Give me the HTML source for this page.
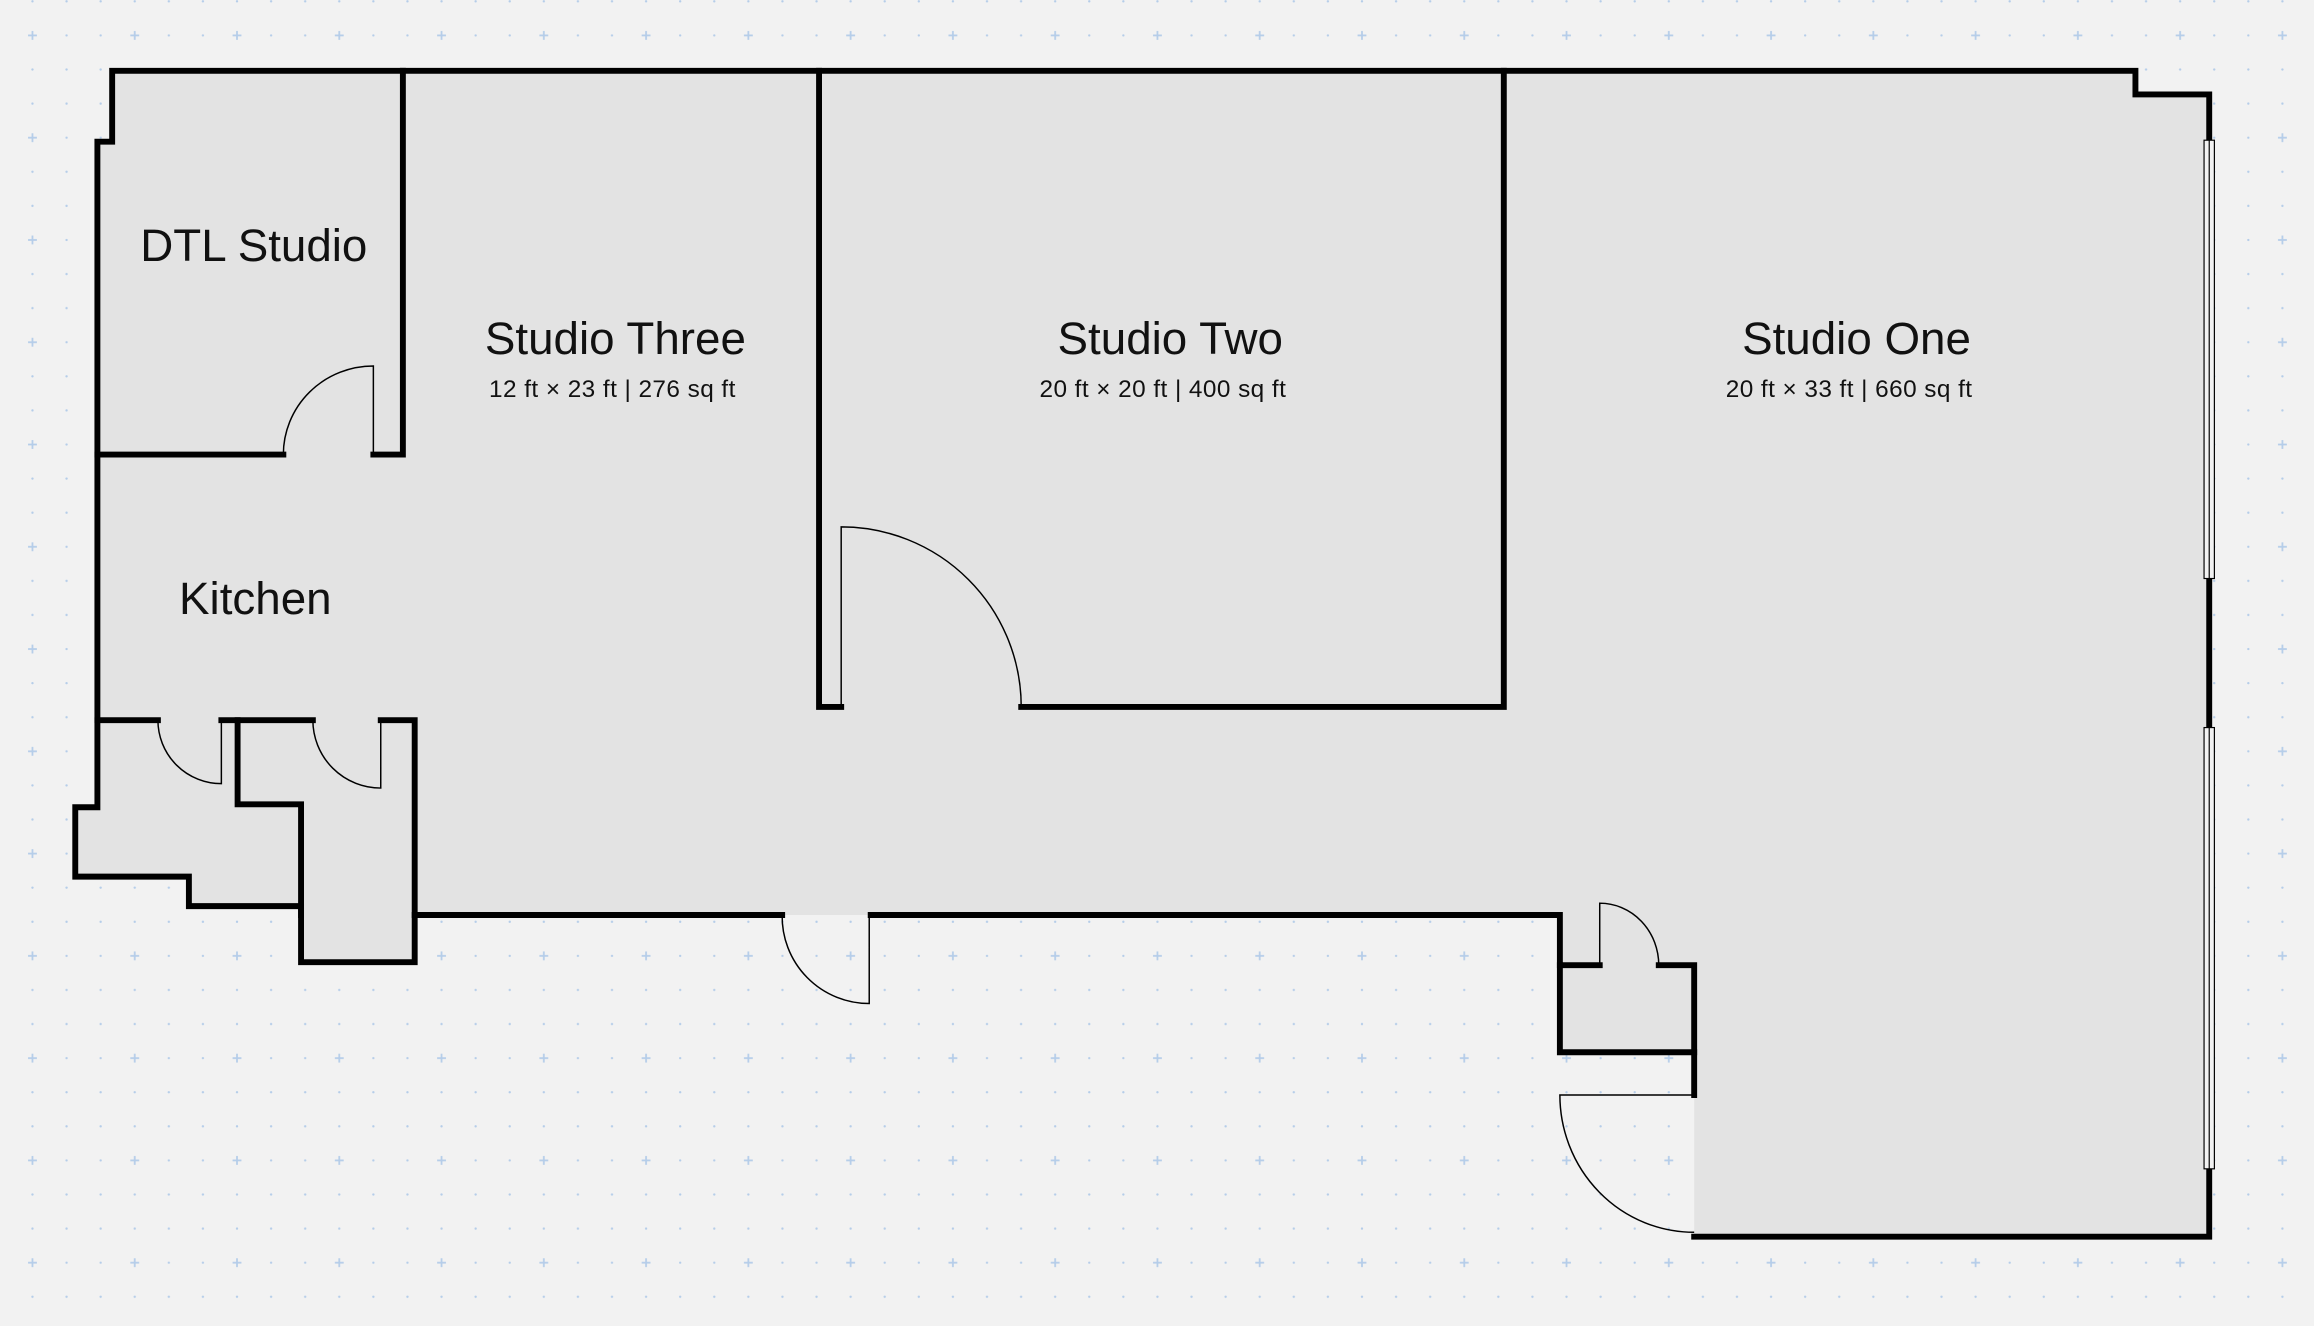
<!DOCTYPE html>
<html><head><meta charset="utf-8"><style>
html,body{margin:0;padding:0;background:#f2f2f2;}
svg{display:block;}
text{font-family:"Liberation Sans",sans-serif;fill:#111;}
</style></head><body>
<svg width="2314" height="1326" viewBox="0 0 1568 898.5" preserveAspectRatio="none" xmlns="http://www.w3.org/2000/svg">
<defs>
<pattern id="g" x="22" y="24" width="69.3" height="69.3" patternUnits="userSpaceOnUse">
<g fill="#b5cde9">
<rect x="-0.6" y="-3" width="1.2" height="6"/><rect x="-3" y="-0.6" width="6" height="1.2"/>
<rect x="68.7" y="-3" width="1.2" height="6"/><rect x="66.3" y="-0.6" width="6" height="1.2"/>
<rect x="-0.6" y="66.3" width="1.2" height="6"/><rect x="-3" y="68.7" width="6" height="1.2"/>
<rect x="68.7" y="66.3" width="1.2" height="6"/><rect x="66.3" y="68.7" width="6" height="1.2"/>
<circle cx="23.1" cy="0" r="0.8"/><circle cx="46.2" cy="0" r="0.8"/>
<circle cx="0" cy="23.1" r="0.8"/><circle cx="23.1" cy="23.1" r="0.8"/><circle cx="46.2" cy="23.1" r="0.8"/>
<circle cx="0" cy="46.2" r="0.8"/><circle cx="23.1" cy="46.2" r="0.8"/><circle cx="46.2" cy="46.2" r="0.8"/>
<circle cx="69.3" cy="23.1" r="0.8"/><circle cx="69.3" cy="46.2" r="0.8"/>
<circle cx="23.1" cy="69.3" r="0.8"/><circle cx="46.2" cy="69.3" r="0.8"/>
</g>
</pattern>
</defs>
<rect width="1568" height="898.5" fill="#f2f2f2"/>
<rect width="1568" height="898.5" fill="url(#g)"/>
<!-- floor -->
<polygon fill="#e3e3e3" points="76,48 1447,48 1447,64 1497,64 1497,838 1148,838 1148,654 1057,654 1057,620 281,620 281,652 204,652 204,614 128,614 128,594 51,594 51,547 66,547 66,96 76,96"/>
<rect x="1057" y="652" width="91" height="61" fill="#e3e3e3"/>
<!-- outer walls -->
<g fill="none" stroke="#000" stroke-width="4" stroke-linejoin="miter" stroke-linecap="square">
<polyline points="530,620 281,620 281,652 204,652 204,614 128,614 128,594 51,594 51,547 66,547 66,96 76,96 76,48 1447,48 1447,64 1497,64 1497,95"/>
<polyline points="1497,392 1497,493"/>
<polyline points="1497,792 1497,838 1148,838"/>
<polyline points="1148,742 1148,654 1124,654"/>
<polyline points="1084,654 1057,654 1057,620 590,620"/>
<polyline points="1057,654 1057,713 1148,713"/>
<!-- interior -->
<polyline points="273,48 273,308 253,308"/>
<polyline points="66,308 192,308"/>
<polyline points="555,48 555,479 570,479"/>
<polyline points="692,479 1019,479 1019,48"/>
<polyline points="66,488 107,488"/>
<polyline points="150,488 161,488 161,545 204,545 204,620"/>
<polyline points="161,488 212,488"/>
<polyline points="258,488 281,488 281,620"/>
</g>
<!-- windows -->
<g fill="#f2f2f2" stroke="#000" stroke-width="0.8">
<rect x="1493.5" y="95" width="7" height="297"/>
<rect x="1493.5" y="493" width="7" height="299"/>
</g>
<g stroke="#000" stroke-width="0.8">
<line x1="1497" y1="95" x2="1497" y2="392"/>
<line x1="1497" y1="493" x2="1497" y2="792"/>
</g>
<!-- doors -->
<g fill="none" stroke="#000" stroke-width="1">
<path d="M192,308 A61,60 0 0 1 253,248 L253,308"/>
<path d="M570,479 L570,357 A122,122 0 0 1 692,479"/>
<path d="M107,488 A43,43 0 0 0 150,531 L150,488"/>
<path d="M212,488 A46,46 0 0 0 258,534 L258,488"/>
<path d="M530,620 A59,59 0 0 0 589,680 L589,620"/>
<path d="M1084,654 L1084,612 A40,42 0 0 1 1124,654"/>
<path d="M1148,742 L1057,742 A91,93 0 0 0 1148,835"/>
</g>
<!-- labels -->
<text x="172" y="177" font-size="31" text-anchor="middle">DTL Studio</text>
<text x="417" y="240" font-size="31" text-anchor="middle">Studio Three</text>
<text x="415" y="269" font-size="16.5" text-anchor="middle" letter-spacing="0.3">12 ft × 23 ft | 276 sq ft</text>
<text x="793" y="240" font-size="31" text-anchor="middle">Studio Two</text>
<text x="788" y="269" font-size="16.5" text-anchor="middle" letter-spacing="0.3">20 ft × 20 ft | 400 sq ft</text>
<text x="1258" y="240" font-size="31" text-anchor="middle">Studio One</text>
<text x="1253" y="269" font-size="16.5" text-anchor="middle" letter-spacing="0.3">20 ft × 33 ft | 660 sq ft</text>
<text x="173" y="416" font-size="31" text-anchor="middle">Kitchen</text>
</svg>
</body></html>
